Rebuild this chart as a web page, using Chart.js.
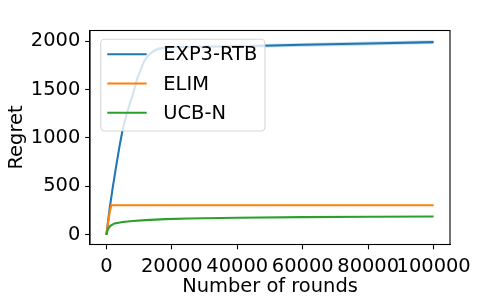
<!DOCTYPE html>
<html>
<head>
<meta charset="utf-8">
<script src="https://cdn.jsdelivr.net/npm/chart.js@4.4.0/dist/chart.umd.min.js"></script>
<style>
html, body { margin: 0; padding: 0; background: #fff; }
#wrap { width: 500px; height: 297px; }
</style>
</head>
<body>
<div id="wrap"><canvas id="chart" width="500" height="297"></canvas></div>
<script>
// series
const seriesNames  = ['EXP3-RTB', 'ELIM', 'UCB-N'];
const seriesColors = ['#1f77b4', '#ff7f0e', '#2ca02c'];

const exp3Rounds = [0, 1000, 2000, 3000, 4000, 5000, 6500, 8000, 9500, 11500, 13000, 14500, 16000, 18000, 20000, 30000, 45000, 60000, 80000, 100000];
const exp3Regret = [0, 270, 500, 710, 910, 1090, 1283, 1440, 1620, 1790, 1860, 1900, 1922, 1935, 1940, 1942, 1950, 1962, 1976, 1990];
const exp3Spread = [0, 10, 12, 14, 15, 16, 17, 18, 18, 18, 18, 18, 18, 18, 18, 18, 18, 19, 20, 20];

const elimRounds = [0, 500, 1000, 1500, 100000];
const elimRegret = [0, 120, 230, 305, 305];

const ucbRounds = [0, 300, 700, 1200, 2500, 5000, 8000, 12000, 18000, 25000, 40000, 60000, 80000, 100000];
const ucbRegret = [0, 40, 70, 93, 118, 132, 142, 152, 162, 168, 177, 183, 187, 190];

const xTicks = [0, 20000, 40000, 60000, 80000, 100000];
const yTicks = [0, 500, 1000, 1500, 2000];

const FONT = { family: '"DejaVu Sans"', size: 19.44 };

const toXY = (xs, ys) => xs.map((x, i) => ({ x, y: ys[i] }));

const line = (name, color, pts, order) => ({
    label: name,
    data: pts,
    borderColor: color,
    borderWidth: 2.08,
    pointRadius: 0,
    showLine: true,
    fill: false,
    order,
});

// axes frame (matplotlib spines)
const framePlugin = {
    id: 'frame',
    afterDatasetsDraw(chart) {
        const { ctx, chartArea: a } = chart;
        ctx.save();
        ctx.strokeStyle = '#000';
        ctx.lineWidth = 1.1;
        ctx.strokeRect(a.left, a.top, a.right - a.left, a.bottom - a.top);
        ctx.restore();
    },
};

// legend box in upper left of the axes
const legendPlugin = {
    id: 'mplLegend',
    afterDraw(chart) {
        const { ctx, chartArea: a } = chart;
        const bx = a.left + 10.7, by = a.top + 8.8, bw = 164.3, bh = 91.7;
        ctx.save();
        ctx.beginPath();
        ctx.roundRect(bx, by, bw, bh, 3.9);
        ctx.fillStyle = 'rgba(255,255,255,0.8)';
        ctx.fill();
        ctx.strokeStyle = 'rgba(204,204,204,0.8)';
        ctx.lineWidth = 1.1;
        ctx.stroke();
        ctx.font = `${FONT.size}px ${FONT.family}`;
        ctx.textBaseline = 'middle';
        ctx.fillStyle = '#000';
        seriesNames.forEach((name, i) => {
            const y = by + 15 + i * 29.2;
            ctx.beginPath();
            ctx.moveTo(bx + 6.6, y);
            ctx.lineTo(bx + 46, y);
            ctx.strokeStyle = seriesColors[i];
            ctx.lineWidth = 2.08;
            ctx.stroke();
            ctx.fillText(name, bx + 62.6, y + 1);
        });
        ctx.restore();
    },
};

new Chart(document.getElementById('chart'), {
    type: 'scatter',
    data: {
        datasets: [
            line(seriesNames[2], seriesColors[2], toXY(ucbRounds, ucbRegret), 0),
            line(seriesNames[1], seriesColors[1], toXY(elimRounds, elimRegret), 1),
            line(seriesNames[0], seriesColors[0], toXY(exp3Rounds, exp3Regret), 2),
            {
                label: 'band-hi',
                data: exp3Rounds.map((x, i) => ({ x, y: exp3Regret[i] + exp3Spread[i] })),
                showLine: true, borderWidth: 0, pointRadius: 0,
                backgroundColor: 'rgba(31,119,180,0.25)',
                fill: '+1', order: 3,
            },
            {
                label: 'band-lo',
                data: exp3Rounds.map((x, i) => ({ x, y: exp3Regret[i] - exp3Spread[i] })),
                showLine: true, borderWidth: 0, pointRadius: 0,
                fill: false, order: 4,
            },
        ],
    },
    options: {
        responsive: false,
        animation: false,
        devicePixelRatio: 1,
        layout: { padding: { left: 0, top: 30.5, right: 50, bottom: 0 } },
        plugins: { legend: { display: false }, tooltip: { enabled: false } },
        scales: {
            x: {
                type: 'linear',
                min: -5000,
                max: 105000,
                afterBuildTicks: s => { s.ticks = xTicks.map(v => ({ value: v })); },
                afterFit: s => { s.height = 52.5; },
                ticks: {
                    autoSkip: false, maxRotation: 0, minRotation: 0,
                    color: '#000', font: FONT, padding: 5.5,
                    callback: v => String(v),
                },
                grid: { drawOnChartArea: false, tickLength: 4.86, tickWidth: 1.1, tickColor: '#000' },
                border: { color: '#000', width: 1.1 },
                title: { display: true, text: 'Number of rounds', color: '#000', font: FONT, padding: { top: 0, bottom: -1.5 } },
            },
            y: {
                type: 'linear',
                min: -100,
                max: 2110,
                afterBuildTicks: s => { s.ticks = yTicks.map(v => ({ value: v })); },
                afterFit: s => { s.width = 90; },
                ticks: { color: '#000', font: FONT, padding: 4.86, callback: v => String(v) },
                grid: { drawOnChartArea: false, tickLength: 4.86, tickWidth: 1.1, tickColor: '#000' },
                border: { color: '#000', width: 1.1 },
                title: { display: true, text: 'Regret', color: '#000', font: FONT, padding: { top: 5, bottom: 0 } },
            },
        },
    },
    plugins: [framePlugin, legendPlugin],
});
</script>
</body>
</html>
